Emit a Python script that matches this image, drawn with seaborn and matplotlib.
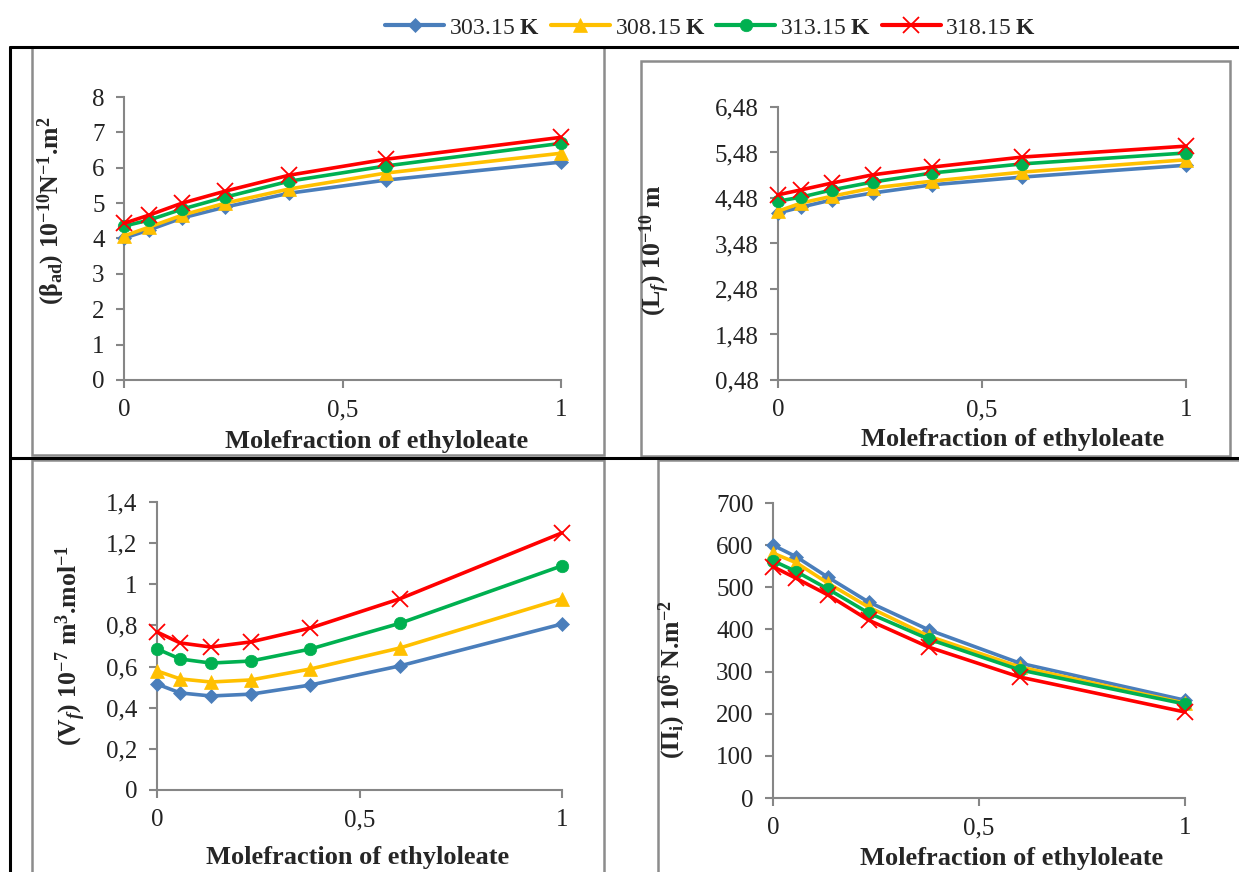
import matplotlib
matplotlib.use("Agg")
import matplotlib.pyplot as plt
import seaborn as sns
import numpy as np
import pandas as pd
from matplotlib.lines import Line2D
from matplotlib.patches import Rectangle
from matplotlib.ticker import FixedLocator, FixedFormatter

# mole fraction of ethyl oleate (shared by all panels)
mole_fraction = [0.0, 0.057, 0.133, 0.232, 0.378, 0.599, 1.0]
temperatures = ["303.15", "308.15", "313.15", "318.15"]

# adiabatic compressibility (beta_ad) 10^-10 N^-1 m^2
beta_303 = [4.01, 4.24, 4.58, 4.89, 5.28, 5.65, 6.16]
beta_308 = [4.07, 4.32, 4.66, 5.00, 5.40, 5.85, 6.41]
beta_313 = [4.35, 4.52, 4.83, 5.17, 5.62, 6.05, 6.69]
beta_318 = [4.43, 4.66, 5.00, 5.34, 5.79, 6.24, 6.86]

# free length (L_f) 10^-10 m
lf_303 = [4.15, 4.28, 4.44, 4.59, 4.77, 4.94, 5.20]
lf_308 = [4.19, 4.37, 4.52, 4.70, 4.85, 5.05, 5.32]
lf_313 = [4.41, 4.50, 4.66, 4.83, 5.03, 5.23, 5.47]
lf_318 = [4.55, 4.66, 4.81, 4.99, 5.16, 5.38, 5.62]

# free volume (V_f) 10^-7 m^3 mol^-1
vf_303 = [0.515, 0.472, 0.457, 0.466, 0.510, 0.603, 0.807]
vf_308 = [0.579, 0.540, 0.525, 0.535, 0.588, 0.690, 0.930]
vf_313 = [0.686, 0.637, 0.617, 0.627, 0.685, 0.810, 1.090]
vf_318 = [0.768, 0.715, 0.695, 0.720, 0.787, 0.929, 1.250]

# internal pressure (Pi_i) 10^6 N m^-2
pi_303 = [600, 572, 524, 465, 399, 320, 232]
pi_308 = [581, 558, 510, 453, 384, 311, 225]
pi_313 = [563, 537, 496, 439, 377, 304, 223]
pi_318 = [549, 521, 482, 422, 358, 287, 204]

# axis ticks
x_ticks = [0, 0.5, 1]
x_tick_labels = ["0", "0,5", "1"]
beta_ticks = [0, 1, 2, 3, 4, 5, 6, 7, 8]
beta_tick_labels = ["0", "1", "2", "3", "4", "5", "6", "7", "8"]
lf_ticks = [0.48, 1.48, 2.48, 3.48, 4.48, 5.48, 6.48]
lf_tick_labels = ["0,48", "1,48", "2,48", "3,48", "4,48", "5,48", "6,48"]
vf_ticks = [0, 0.2, 0.4, 0.6, 0.8, 1.0, 1.2, 1.4]
vf_tick_labels = ["0", "0,2", "0,4", "0,6", "0,8", "1", "1,2", "1,4"]
pi_ticks = [0, 100, 200, 300, 400, 500, 600, 700]
pi_tick_labels = ["0", "100", "200", "300", "400", "500", "600", "700"]

colors = ["#4A7EBB", "#FFC000", "#00B050", "#FF0000"]
markers = ["D", "^", "o", "x"]
marker_sizes = [7.5, 9.5, 9, 11]

W, H = 1239, 872

sns.set_theme(style="white")
plt.rcParams["font.family"] = ["Liberation Serif", "DejaVu Serif"]
plt.rcParams["mathtext.fontset"] = "custom"
plt.rcParams["mathtext.rm"] = "Liberation Serif:bold"
plt.rcParams["mathtext.bf"] = "Liberation Serif:bold"
plt.rcParams["mathtext.it"] = "Liberation Serif:bold:italic"
plt.rcParams["mathtext.default"] = "bf"

fig = plt.figure(figsize=(W / 100, H / 100), dpi=100)


def px_rect(x0, y0, x1, y1):
    """pixel box (top-left origin) -> figure fraction [left, bottom, width, height]"""
    return [x0 / W, 1 - y1 / H, (x1 - x0) / W, (y1 - y0) / H]


def draw_panel(rect, series, ticks, tick_labels, ylim, ylabel, xlab_pos, ylab_pos):
    ax = fig.add_axes(px_rect(*rect))
    for vals, c, m, ms, t in zip(series, colors, markers, marker_sizes, temperatures):
        df = pd.DataFrame({"x": mole_fraction, "y": vals})
        sns.lineplot(data=df, x="x", y="y", ax=ax, color=c, linewidth=2.6,
                     marker=m, markersize=ms, markeredgecolor=c,
                     markeredgewidth=1.3 if m == "x" else 0.5, clip_on=False, zorder=3)
    ax.set_xlim(0, 1)
    ax.set_ylim(*ylim)
    ax.xaxis.set_major_locator(FixedLocator(x_ticks))
    ax.xaxis.set_major_formatter(FixedFormatter(x_tick_labels))
    ax.yaxis.set_major_locator(FixedLocator(ticks))
    ax.yaxis.set_major_formatter(FixedFormatter(tick_labels))
    for s in ["top", "right"]:
        ax.spines[s].set_visible(False)
    for s in ["left", "bottom"]:
        ax.spines[s].set_color("#868686")
        ax.spines[s].set_linewidth(1.5)
    ax.tick_params(axis="both", direction="out", length=6, width=1.5, color="#868686",
                   labelsize=18, labelcolor="#222222", pad=8, left=True, bottom=True)
    ax.set_xlabel("Molefraction of ethyloleate", fontsize=19, fontweight="bold")
    ax.set_ylabel(ylabel, fontsize=18.5, fontweight="bold")
    ax.xaxis.set_label_coords(*xlab_pos)
    ax.yaxis.set_label_coords(*ylab_pos)
    ax.grid(False)
    return ax


draw_panel((124, 97, 561, 380), [beta_303, beta_308, beta_313, beta_318],
           beta_ticks, beta_tick_labels, (0, 8),
           r"($\beta_{ad}$) 10$^{-10}$N$^{-1}$.m$^{2}$", (0.579, -0.177), (-0.130, 0.60))
draw_panel((778, 107, 1186, 380), [lf_303, lf_308, lf_313, lf_318],
           lf_ticks, lf_tick_labels, (0.48, 6.48),
           r"(L$_{\mathit{f}}$) 10$^{-10}$ m", (0.576, -0.176), (-0.26, 0.476))
draw_panel((157, 502, 562, 790), [vf_303, vf_308, vf_313, vf_318],
           vf_ticks, vf_tick_labels, (0, 1.4),
           r"(V$_{\mathit{f}}$) 10$^{-7}$ m$^{3}$.mol$^{-1}$", (0.496, -0.196), (-0.170, 0.503))
draw_panel((773, 503, 1185, 798), [pi_303, pi_308, pi_313, pi_318],
           pi_ticks, pi_tick_labels, (0, 700),
           r"($\Pi_{i}$) 10$^{6}$ N.m$^{-2}$", (0.578, -0.166), (-0.206, 0.40))

# chart frames (grey) and table rules (black)
for box in [(32, 47, 604, 455), (641, 61, 1230, 456), (32, 460, 604, 880), (658, 460, 1245, 880)]:
    l, b, w, h = px_rect(*box)
    fig.add_artist(Rectangle((l, b), w, h, transform=fig.transFigure, fill=False,
                             ec="#8c8c8c", lw=1.8, zorder=0))
for (x0, y0, x1, y1) in [(10, 47, W, 47), (10, 458, W, 458), (10, 47, 10, H)]:
    fig.add_artist(Line2D([x0 / W, x1 / W], [1 - y0 / H, 1 - y1 / H],
                          transform=fig.transFigure, color="black", lw=2.2))

handles = [Line2D([], [], color=c, marker=m, markersize=ms, markeredgecolor=c,
                  markeredgewidth=1.3 if m == "x" else 0.5, lw=3)
           for c, m, ms in zip(colors, markers, marker_sizes)]
labels = [t + r" $K$" for t in temperatures]
fig.legend(handles, labels, loc="center", bbox_to_anchor=(711 / W, 1 - 28 / H), ncol=4,
           frameon=False, fontsize=17, handlelength=2.5, handletextpad=0.2,
           columnspacing=0.45, borderaxespad=0)

fig.savefig("out.png", dpi=100)
